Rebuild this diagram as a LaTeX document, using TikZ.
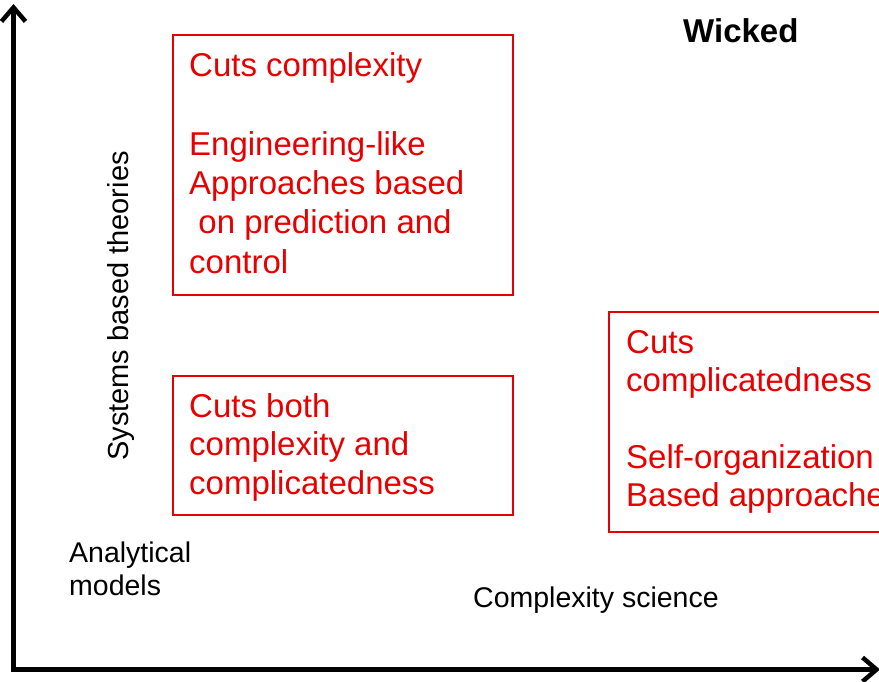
\documentclass[tikz,border=0pt]{standalone}
\usepackage{fontspec}
\setmainfont{Liberation Sans}
\usetikzlibrary{arrows.meta}
\definecolor{boxred}{RGB}{232,0,0}
\begin{document}
\begin{tikzpicture}[x=1pt,y=-1pt,
  axis/.style={line width=4.5pt,black,line join=miter},
  redbox/.style={draw=boxred,line width=2pt,anchor=north west,inner sep=0pt,rectangle},
  redtext/.style={text=boxred,anchor=base west,inner sep=0pt,align=left,font=\fontsize{33}{39.3}\selectfont},
  blacktext/.style={text=black,anchor=base west,inner sep=0pt,align=left,font=\fontsize{28.5}{33}\selectfont}]
\clip (0,0) rectangle (879,682);
% axes
\coordinate (ytop) at (13.5,4);
\coordinate (origin) at (13.5,669.5);
\coordinate (xend) at (880,669.5);
\draw[axis,{Straight Barb[length=14pt,width=24pt]}-{Straight Barb[length=14pt,width=24pt]}] (ytop) -- (origin) -- (xend);
% boxes
\node[redbox,minimum width=340pt,minimum height=260pt] (box1) at (172,34) {};
\node[redbox,minimum width=340pt,minimum height=139pt] (box2) at (172,375) {};
\node[redbox,minimum width=320pt,minimum height=220pt] (box3) at (607.5,311) {};
% box texts (anchor = baseline of the last line)
\node[redtext] (t1) at (189,273.2) {Cuts complexity\\\mbox{}\\Engineering-like\\Approaches based\\\hspace*{.28em}on prediction and\\control};
\node[redtext,font=\fontsize{33}{38.5}\selectfont] (t2) at (189,494.3) {Cuts both\\complexity and\\complicatedness};
\node[redtext,font=\fontsize{33}{38.35}\selectfont] (t3) at (626,506.7) {Cuts\\complicatedness\\\mbox{}\\Self-organization\\Based approaches};
% labels
\node[anchor=base west,inner sep=0pt,font=\fontsize{33}{39}\selectfont\bfseries] (wicked) at (683,42.7) {Wicked};
\node[anchor=base,inner sep=0pt,rotate=90,font=\fontsize{29}{33}\selectfont] (ylab) at (128,306) {Systems based theories};
\node[blacktext,font=\fontsize{28.5}{32.3}\selectfont] (anal) at (69,595) {Analytical\\models};
\node[blacktext] (cplx) at (473,607) {Complexity science};
\end{tikzpicture}
\end{document}
